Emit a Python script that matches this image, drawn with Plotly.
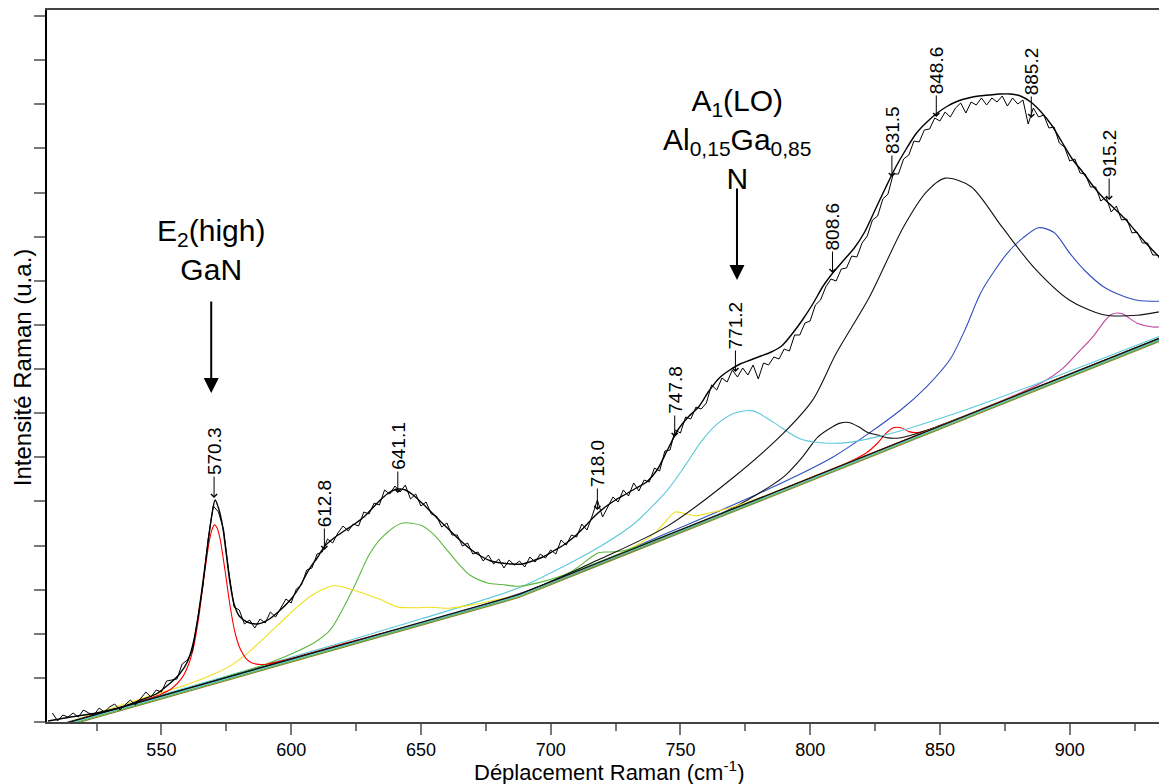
import plotly.graph_objects as go

# ---------------- data (x in cm-1, y in arbitrary units) ----------------
noisy_x = list(range(508, 937, 2))
noisy_y = [9, 1, 7, 5, 9, 5, 12, 9, 7, 14,
           10, 15, 18, 12, 17, 22, 17, 24, 30, 25,
           32, 30, 41, 42, 43, 58, 62, 71, 106, 136,
           183, 216, 210, 192, 150, 115, 112, 98, 102, 94,
           103, 99, 110, 105, 114, 123, 119, 133, 137, 152,
           154, 168, 170, 183, 179, 189, 196, 191, 198, 196,
           210, 208, 219, 217, 232, 228, 236, 230, 237, 223,
           228, 216, 220, 208, 206, 195, 199, 187, 187, 176,
           179, 168, 170, 161, 167, 158, 163, 154, 162, 157,
           161, 155, 165, 160, 168, 164, 172, 168, 182, 177,
           187, 185, 198, 192, 206, 222, 205, 215, 225, 220,
           232, 226, 239, 231, 242, 240, 254, 251, 271, 272,
           292, 289, 305, 303, 315, 313, 319, 337, 332, 344,
           340, 352, 345, 354, 347, 357, 343, 359, 357, 365,
           363, 373, 371, 387, 387, 399, 401, 417, 422, 435,
           443, 441, 453, 454, 466, 465, 479, 486, 502, 506,
           523, 528, 548, 548, 563, 567, 581, 580, 592, 593,
           604, 601, 610, 605, 614, 619, 609, 620, 617, 624,
           617, 624, 620, 626, 616, 624, 618, 622, 598, 614,
           605, 607, 594, 595, 579, 575, 561, 563, 549, 548,
           535, 535, 521, 525, 510, 516, 502, 503, 489, 490,
           479, 479, 467, 467, 455]

fit_x = [506.3, 515, 525, 535, 542, 548, 553, 557, 560, 562,
         564, 566, 568, 569.5, 570.7, 572, 573.5, 575, 576.5, 578,
         580, 583, 587, 591, 595, 600, 603, 607, 610, 613,
         617, 621, 625, 628, 631, 634, 637, 641, 644, 647,
         652, 657, 661, 665, 669, 673, 677, 681, 685, 689,
         693, 697, 701, 705, 709, 713, 717, 721, 725, 729,
         733, 737, 741, 745, 749, 753, 757, 761, 765, 769,
         773, 777, 781, 785, 789, 793, 797, 801, 805, 809,
         813, 817, 821, 825, 829, 833, 837, 841, 845, 849,
         853, 857, 861, 865, 869, 873, 877, 881, 885, 889,
         893, 897, 901, 905, 909, 913, 917, 921, 925, 929,
         933, 937.5]
fit_y = [1, 5, 9, 15, 22, 28, 38, 48, 60, 76,
         103, 140, 180, 208, 222, 214, 197, 168, 138, 118,
         106, 100, 98, 102, 110, 123, 134, 153, 164, 176,
         185, 192, 199, 205, 213, 221, 228, 233, 232, 227,
         215, 202, 192, 182, 173, 166, 161, 159, 158, 158,
         161, 165, 171, 177, 185, 195, 206, 215, 222, 228,
         234, 240, 252, 272, 292, 305, 315, 331, 344, 352,
         358, 362, 366, 370, 376, 388, 402, 418, 436, 450,
         462, 474, 490, 512, 534, 555, 573, 589, 600, 609,
         616, 621, 624, 626, 627, 628, 628, 626, 620, 610,
         597, 580, 563, 550, 536, 524, 514, 504, 492, 480,
         469, 457]

# baseline bundle
base_x = [512, 688, 937.5]
base_black_y = [-2, 127.7, 386.7]
base_cyan_y = [-3, 126.7, 385.7]
base_green_y = [-4, 125.7, 384.7]
base_olive_y = [-5, 124.7, 383.7]

# fitted components (baseline included)
red_x = [512, 535, 545, 550, 554, 558, 560.5, 562.5, 564.5, 566.5, 568.5, 569.5, 570.5,
         571.5, 572.5, 574.5, 576.5, 578.5, 580.5, 582.5, 584.5, 587.5, 590.5, 596, 620, 688, 800, 937.5]
red_y = [-2, 15.5, 23.3, 28, 33.5, 44.4, 57.7, 76.2, 106.7, 146.2, 181.6, 192.4, 197.1,
         193.8, 184.6, 152, 115.5, 88, 72.4, 63.9, 59.4, 57.6, 57.8, 60.9, 78.1, 127.7, 244, 386.7]

yel_x = [512, 540, 560, 570, 577, 583, 589, 595, 602, 608, 613, 616, 620, 628, 634, 641,
         648, 654, 661, 670, 680, 688, 800, 937.5]
yel_y = [-2, 21.6, 37.4, 47.7, 56.9, 68.3, 82.7, 97.1, 114.3, 126.7, 133.4, 136.2, 135, 128.5,
         122.9, 115.1, 114.2, 114.7, 113.8, 117.4, 122.8, 127.7, 244, 386.7]

grn_x = [512, 560, 580, 590, 600, 609, 615, 620, 625, 630, 635, 642.6, 650, 655, 660, 665,
         669, 676, 681, 688, 698, 710, 800, 937.5]
grn_y = [-2, 33.4, 49.1, 57.5, 67.9, 79.5, 91.9, 113.6, 139.3, 167, 184.6, 198.7, 196.7, 187.4,
         172.1, 156.7, 146.7, 138.8, 137.5, 135.7, 141.1, 151.5, 244, 386.7]

gsm_x = [512, 600, 688, 700, 708, 712, 715, 718, 721, 724, 728, 736, 830, 937.5]
gsm_y = [-2, 62.9, 127.7, 140.7, 150.5, 157.6, 163.8, 168.8, 170, 170.1, 171.2, 178, 275.1, 386.7]

ysm_x = [512, 600, 688, 725, 735, 740, 744, 748, 752, 756, 762, 770, 780, 860, 937.5]
ysm_y = [-2, 62.9, 127.7, 166.6, 179.5, 188.7, 199.8, 210, 208.1, 206.3, 209.5, 214.8, 223.7, 306.2, 386.7]

cyn_x = [512, 600, 650, 688, 705, 720, 732, 745, 752, 758, 764, 771, 778, 786, 796, 804,
         815, 828, 835, 850, 870, 900, 937.5]
cyn_y = [-1.3, 64.6, 103, 134.4, 155.6, 177, 198, 231.9, 257.1, 280.4, 297.6, 308.9, 311.1,
         299.4, 283.3, 279.3, 279.6, 286.5, 291.2, 303.4, 321.5, 350.7, 388.5]

bsm_x = [512, 600, 688, 770, 785, 790, 797, 803, 808, 811.5, 815, 819, 822, 826, 830, 835, 845, 890, 937.5]
bsm_y = [-2, 62.9, 127.7, 213.8, 236.4, 245.6, 264.9, 285.1, 294.3, 298.9, 299.5, 294.7, 289.8,
         287, 284.1, 284.3, 291.7, 337.4, 386.7]

rsm_x = [512, 600, 688, 760, 815, 822, 826, 829, 832, 835, 838, 842, 850, 890, 937.5]
rsm_y = [-2, 62.9, 127.7, 202.4, 260, 269.8, 279, 288.1, 294.2, 294.3, 290.4, 289.6, 296.2, 337.4, 386.7]

bbg_x = [512, 600, 688, 719, 745, 770, 790, 801, 810, 823, 836, 845, 852, 862, 874, 886,
         900, 913, 926, 937.5]
bbg_y = [-2, 62.9, 127.7, 162.9, 195.9, 243.8, 289.6, 322.1, 368.4, 425.8, 495.3, 530.7, 543.9,
         535.3, 494.8, 455.2, 421.8, 407.3, 406.8, 411.7]

blu_x = [512, 600, 688, 745, 783, 809, 835, 845, 854, 860, 866, 876, 882, 888, 894, 900,
         906, 913, 920, 926, 937.5]
blu_y = [-2, 62.9, 128.5, 188.9, 231.8, 265.3, 312.3, 335.7, 363, 394.2, 430.5, 468.9, 484.1,
         494.3, 489.5, 468.8, 451, 435.3, 426.5, 421.8, 420.7]

mag_x = [512, 600, 688, 800, 880, 890, 897, 903, 909, 913, 916, 920, 926, 932, 937.5]
mag_y = [-2, 62.9, 127.7, 244, 328, 340.4, 352.9, 368.9, 385.4, 399.3, 407.5, 408.5, 398.8, 395, 395.7]

# peak labels
peak_labels = ["570.3", "612.8", "641.1", "718.0", "747.8", "771.2",
               "808.6", "831.5", "848.6", "885.2", "915.2"]
peak_pos = [570.3, 612.8, 641.1, 718.0, 747.8, 771.2, 808.6, 831.5, 848.6, 885.2, 915.2]
peak_tip = [224, 172, 229, 212, 285, 350, 449, 545, 605, 604, 522]

x_ticks_major = [550, 600, 650, 700, 750, 800, 850, 900]

assert len(noisy_x) == len(noisy_y)
assert len(fit_x) == len(fit_y)

FONT = "Arial, Liberation Sans, sans-serif"

fig = go.Figure()

def comp(x, y, color, width=1.1):
    fig.add_trace(go.Scatter(x=x, y=y, mode="lines",
                             line=dict(color=color, width=width, shape="spline", smoothing=0.8),
                             hoverinfo="skip", showlegend=False))

comp(mag_x, mag_y, "#c2429e")
comp(blu_x, blu_y, "#3050c0")
comp(rsm_x, rsm_y, "#ff0000")
comp(bsm_x, bsm_y, "#111111")
comp(cyn_x, cyn_y, "#5cc8dc")
comp(ysm_x, ysm_y, "#f0e020")
comp(gsm_x, gsm_y, "#5cb840")
comp(grn_x, grn_y, "#5cb840")
comp(yel_x, yel_y, "#f0e020")
comp(red_x, red_y, "#ff0000")
comp(bbg_x, bbg_y, "#111111")

for yy, col in [(base_olive_y, "#8a7a30"), (base_green_y, "#5cb840"),
                (base_cyan_y, "#5cc8dc"), (base_black_y, "#111111")]:
    fig.add_trace(go.Scatter(x=base_x, y=yy, mode="lines", line=dict(color=col, width=1.2),
                             hoverinfo="skip", showlegend=False))

fig.add_trace(go.Scatter(x=fit_x, y=fit_y, mode="lines",
                         line=dict(color="black", width=1.4, shape="spline", smoothing=0.8),
                         hoverinfo="skip", showlegend=False))
fig.add_trace(go.Scatter(x=noisy_x, y=noisy_y, mode="lines", line=dict(color="black", width=1),
                         hoverinfo="skip", showlegend=False))

# peak labels with small arrows
for lab, xp, ty in zip(peak_labels, peak_pos, peak_tip):
    fig.add_annotation(x=xp, y=ty, xref="x", yref="y", text=lab, textangle=-90,
                       showarrow=True, arrowhead=4, arrowsize=1.2, arrowwidth=1, arrowcolor="black",
                       ax=0, ay=-47, standoff=0, font=dict(family=FONT, size=19, color="black"))

# big labels and arrows
fig.add_annotation(x=569.2, y=472, xref="x", yref="y", showarrow=False,
                   text="E<sub>2</sub>(high)<br>GaN", font=dict(family=FONT, size=30, color="black"),
                   xanchor="center", yanchor="middle")
fig.add_annotation(x=569.2, y=329, xref="x", yref="y", ax=569.2, ay=422, axref="x", ayref="y",
                   text="", showarrow=True, arrowhead=2, arrowsize=1.5, arrowwidth=2, arrowcolor="black")
fig.add_annotation(x=771.8, y=583, xref="x", yref="y", showarrow=False,
                   text="A<sub>1</sub>(LO)<br>Al<sub>0,15</sub>Ga<sub>0,85</sub><br>N",
                   font=dict(family=FONT, size=30, color="black"), xanchor="center", yanchor="middle")
fig.add_annotation(x=771.8, y=442, xref="x", yref="y", ax=771.8, ay=535, axref="x", ayref="y",
                   text="", showarrow=True, arrowhead=2, arrowsize=1.5, arrowwidth=2, arrowcolor="black")

# axis titles
fig.add_annotation(x=-0.0223, y=0.497, xref="paper", yref="paper", showarrow=False, textangle=-90,
                   text="Intensité Raman (u.a.)", font=dict(family=FONT, size=24, color="black"),
                   xanchor="center", yanchor="middle")
fig.add_annotation(x=0.502, y=-0.0688, xref="paper", yref="paper", showarrow=False,
                   text="Déplacement Raman (cm<sup>-1</sup>)", font=dict(family=FONT, size=22, color="black"),
                   xanchor="center", yanchor="middle")

# page body has an 8px margin: shrink the figure so the plot area lands where the reference has it
fig.update_layout(
    width=1159, height=776,
    margin=dict(l=39, r=0, t=2, b=62),
    paper_bgcolor="white", plot_bgcolor="white",
    showlegend=False,
    font=dict(family=FONT, color="black"),
)
fig.update_xaxes(range=[505.92, 937.5], showgrid=False, zeroline=False,
                 showline=True, linecolor="#444444", linewidth=1.5, mirror=True,
                 tickmode="array", tickvals=x_ticks_major, ticktext=[str(v) for v in x_ticks_major],
                 ticks="outside", ticklen=11, tickwidth=2, tickcolor="#777777",
                 tickfont=dict(family=FONT, size=18, color="black"),
                 minor=dict(dtick=25, tick0=0, ticks="outside", ticklen=7, tickwidth=2, tickcolor="#777777"))
fig.update_yaxes(range=[0, 712], showgrid=False, zeroline=False,
                 showline=True, linecolor="black", linewidth=1.5,
                 tickmode="linear", tick0=0, dtick=44.125, showticklabels=False,
                 ticks="outside", ticklen=11, tickwidth=2, tickcolor="#777777")

fig.write_html("out.html")
